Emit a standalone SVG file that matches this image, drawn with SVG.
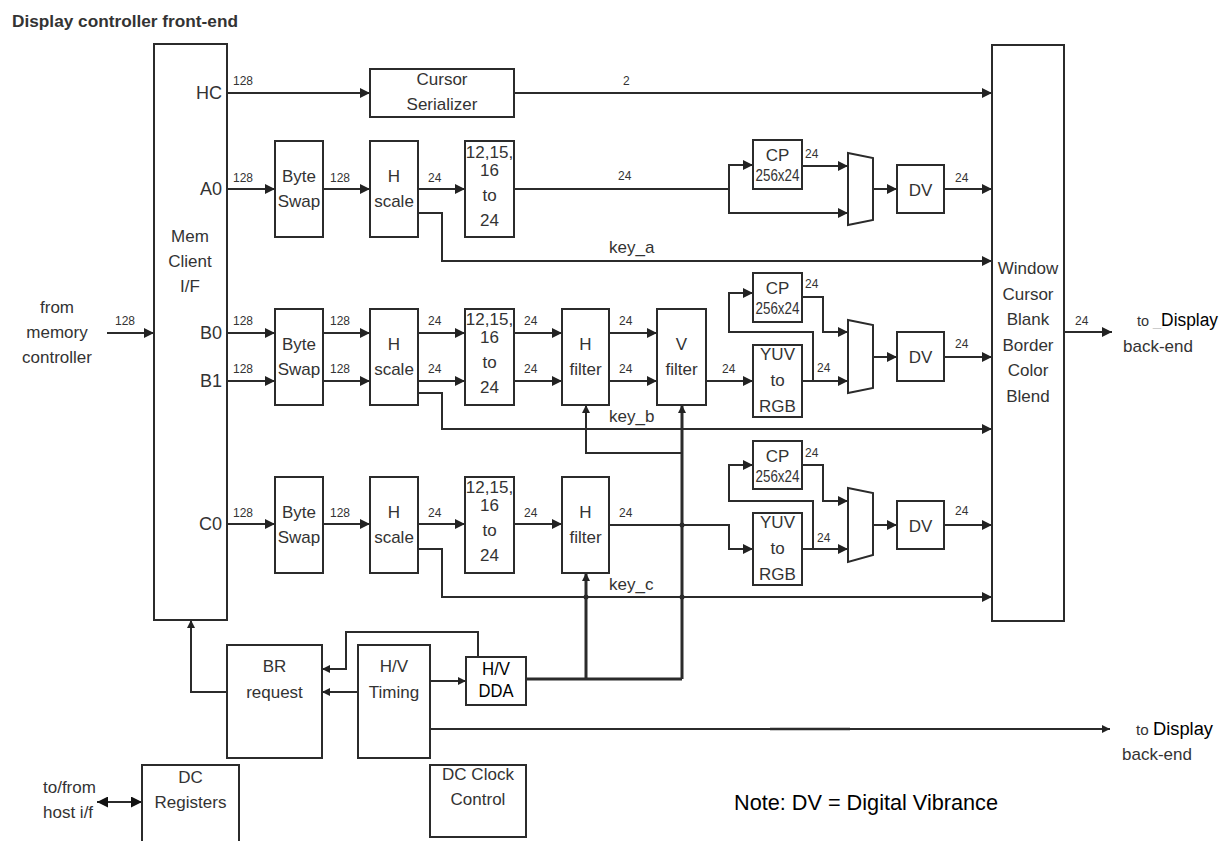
<svg xmlns="http://www.w3.org/2000/svg" width="1228" height="841" viewBox="0 0 1228 841">
<style>
.box{fill:#fff;stroke:#2b2b2b;stroke-width:2}
.ln{fill:none;stroke:#2b2b2b;stroke-width:2}
.th{fill:none;stroke:#2b2b2b;stroke-width:3}
.t{font-family:"Liberation Sans",Arial,sans-serif;font-size:17px;fill:#333;text-anchor:middle}
.p{font-family:"Liberation Sans",Arial,sans-serif;font-size:18px;fill:#333;text-anchor:end}
.s{font-family:"Liberation Sans",Arial,sans-serif;font-size:12px;fill:#333}
.k{font-family:"Liberation Sans",Arial,sans-serif;font-size:17px;fill:#333}
.n{font-family:"Liberation Sans Narrow","Liberation Sans",Arial,sans-serif;fill:#000}
.dot{fill:#2b2b2b}
</style>
<defs>
<marker id="a" viewBox="0 0 10 10" refX="10" refY="5" markerWidth="11" markerHeight="10" markerUnits="userSpaceOnUse" orient="auto"><path d="M0,0L10,5L0,10z" fill="#222"/></marker>
<marker id="as" viewBox="0 0 10 10" refX="10" refY="5" markerWidth="8" markerHeight="8" markerUnits="userSpaceOnUse" orient="auto"><path d="M0,0L10,5L0,10z" fill="#222"/></marker>
<marker id="ab" viewBox="0 0 10 10" refX="10" refY="5" markerWidth="12" markerHeight="11" markerUnits="userSpaceOnUse" orient="auto-start-reverse"><path d="M0,0L10,5L0,10z" fill="#111"/></marker>
</defs>
<rect width="1228" height="841" fill="#fff"/>
<text x="12" y="27" font-family="Liberation Sans,Arial,sans-serif" font-weight="bold" font-size="17" fill="#333" textLength="226" lengthAdjust="spacingAndGlyphs">Display controller front-end</text>

<g id="connectors">
<path class="ln" d="M107,333H154" marker-end="url(#a)"/>
<path class="ln" d="M227,93H370" marker-end="url(#a)"/>
<path class="ln" d="M514,93H992" marker-end="url(#a)"/>
<path class="ln" d="M227,189H275" marker-end="url(#a)"/>
<path class="ln" d="M323,189H370" marker-end="url(#a)"/>
<path class="ln" d="M418,189H465" marker-end="url(#a)"/>
<path class="ln" d="M514,189H729V165H753" marker-end="url(#a)"/>
<path class="ln" d="M729,189V213H848" marker-end="url(#a)"/>
<path class="ln" d="M802,166H848" marker-end="url(#a)"/>
<path class="ln" d="M873,189H897" marker-end="url(#a)"/>
<path class="ln" d="M944,189H992" marker-end="url(#a)"/>
<path class="ln" d="M418,213H442V261H992" marker-end="url(#a)"/>
<path class="ln" d="M227,333H275" marker-end="url(#a)"/>
<path class="ln" d="M227,381H275" marker-end="url(#a)"/>
<path class="ln" d="M323,333H370" marker-end="url(#a)"/>
<path class="ln" d="M323,381H370" marker-end="url(#a)"/>
<path class="ln" d="M418,333H465" marker-end="url(#a)"/>
<path class="ln" d="M418,381H465" marker-end="url(#a)"/>
<path class="ln" d="M514,333H562" marker-end="url(#a)"/>
<path class="ln" d="M514,381H562" marker-end="url(#a)"/>
<path class="ln" d="M609,333H657" marker-end="url(#a)"/>
<path class="ln" d="M609,381H657" marker-end="url(#a)"/>
<path class="ln" d="M706,381H753" marker-end="url(#a)"/>
<path class="ln" d="M802,381H848" marker-end="url(#a)"/>
<path class="ln" d="M813,381V332H729V293H753" marker-end="url(#a)"/>
<path class="ln" d="M802,297H823V332H848" marker-end="url(#a)"/>
<path class="ln" d="M873,357H897" marker-end="url(#a)"/>
<path class="ln" d="M944,357H992" marker-end="url(#a)"/>
<path class="ln" d="M418,393H442V429H992" marker-end="url(#a)"/>
<path class="ln" d="M682,453H586V405" marker-end="url(#as)"/>
<path class="th" d="M682,679V405" marker-end="url(#as)"/>
<path class="ln" d="M227,524H275" marker-end="url(#a)"/>
<path class="ln" d="M323,524H370" marker-end="url(#a)"/>
<path class="ln" d="M418,524H465" marker-end="url(#a)"/>
<path class="ln" d="M514,524H562" marker-end="url(#a)"/>
<path class="ln" d="M609,525H729V549H753" marker-end="url(#a)"/>
<path class="ln" d="M802,549H848" marker-end="url(#a)"/>
<path class="ln" d="M813,549V501H729V465H753" marker-end="url(#a)"/>
<path class="ln" d="M802,465H823V501H848" marker-end="url(#a)"/>
<path class="ln" d="M873,525H897" marker-end="url(#a)"/>
<path class="ln" d="M944,525H992" marker-end="url(#a)"/>
<path class="ln" d="M418,549H442V597H992" marker-end="url(#a)"/>
<path class="th" d="M586,679V573" marker-end="url(#as)"/>
<circle class="dot" cx="682" cy="525" r="2.5"/>
<circle class="dot" cx="682" cy="597" r="2.5"/>
<circle class="dot" cx="586" cy="597" r="2.5"/>
<path class="ln" d="M1064,332H1112" marker-end="url(#a)"/>
<path class="ln" d="M227,692H191V620" marker-end="url(#as)"/>
<path class="ln" d="M358,692H322" marker-end="url(#as)"/>
<path class="ln" d="M478,657V632H346V669H322" marker-end="url(#as)"/>
<path class="ln" d="M430,681H466" marker-end="url(#as)"/>
<path class="th" d="M526,679H682"/>
<path class="ln" d="M430,729H1110" marker-end="url(#as)"/>
<path fill="none" stroke="#2b2b2b" stroke-width="2.6" d="M770,729H850"/>
<path class="ln" d="M97,802H142" marker-start="url(#ab)" marker-end="url(#ab)"/>
</g>

<g id="mem">
<rect class="box" x="154" y="44" width="73" height="576"/>
<text class="t" x="190" y="242">Mem</text>
<text class="t" x="190" y="267">Client</text>
<text class="t" x="190" y="292">I/F</text>
<text class="p" x="222" y="99">HC</text>
<text class="p" x="222" y="195">A0</text>
<text class="p" x="222" y="339">B0</text>
<text class="p" x="222" y="387">B1</text>
<text class="p" x="222" y="530">C0</text>
</g>
<g id="cursor-serializer">
<rect class="box" x="370" y="69" width="144" height="48"/>
<text class="t" x="442" y="85">Cursor</text>
<text class="t" x="442" y="110">Serializer</text>
</g>
<g id="byteswap-a"><rect class="box" x="275" y="141" width="48" height="96"/><text class="t" x="299" y="182">Byte</text><text class="t" x="299" y="207">Swap</text></g>
<g id="byteswap-b"><rect class="box" x="275" y="309" width="48" height="96"/><text class="t" x="299" y="350">Byte</text><text class="t" x="299" y="375">Swap</text></g>
<g id="byteswap-c"><rect class="box" x="275" y="477" width="48" height="96"/><text class="t" x="299" y="518">Byte</text><text class="t" x="299" y="543">Swap</text></g>
<g id="hscale-a"><rect class="box" x="370" y="141" width="48" height="96"/><text class="t" x="394" y="182">H</text><text class="t" x="394" y="207">scale</text></g>
<g id="hscale-b"><rect class="box" x="370" y="309" width="48" height="96"/><text class="t" x="394" y="350">H</text><text class="t" x="394" y="375">scale</text></g>
<g id="hscale-c"><rect class="box" x="370" y="477" width="48" height="96"/><text class="t" x="394" y="518">H</text><text class="t" x="394" y="543">scale</text></g>
<g id="conv-a"><rect class="box" x="465" y="141" width="49" height="96"/><text class="t" x="489.5" y="158" font-size="12">12,15,</text><text class="t" x="489.5" y="176" font-size="12">16</text><text class="t" x="489.5" y="201">to</text><text class="t" x="489.5" y="226">24</text></g>
<g id="conv-b"><rect class="box" x="465" y="309" width="49" height="96"/><text class="t" x="489.5" y="325" font-size="12">12,15,</text><text class="t" x="489.5" y="343" font-size="12">16</text><text class="t" x="489.5" y="368">to</text><text class="t" x="489.5" y="393">24</text></g>
<g id="conv-c"><rect class="box" x="465" y="477" width="49" height="96"/><text class="t" x="489.5" y="493" font-size="12">12,15,</text><text class="t" x="489.5" y="511" font-size="12">16</text><text class="t" x="489.5" y="536">to</text><text class="t" x="489.5" y="561">24</text></g>
<g id="hfilter-b"><rect class="box" x="562" y="309" width="47" height="96"/><text class="t" x="585.5" y="350">H</text><text class="t" x="585.5" y="375">filter</text></g>
<g id="hfilter-c"><rect class="box" x="562" y="477" width="47" height="96"/><text class="t" x="585.5" y="518">H</text><text class="t" x="585.5" y="543">filter</text></g>
<g id="vfilter-b"><rect class="box" x="657" y="309" width="49" height="96"/><text class="t" x="681.5" y="350">V</text><text class="t" x="681.5" y="375">filter</text></g>
<g id="cp-a"><rect class="box" x="753" y="140" width="49" height="49"/><text class="t" x="777.5" y="161" font-size="18">CP</text><text class="t" x="777.5" y="181" font-size="12" textLength="44" lengthAdjust="spacingAndGlyphs">256x24</text></g>
<g id="cp-b"><rect class="box" x="753" y="273" width="49" height="49"/><text class="t" x="777.5" y="294" font-size="18">CP</text><text class="t" x="777.5" y="314" font-size="12" textLength="44" lengthAdjust="spacingAndGlyphs">256x24</text></g>
<g id="cp-c"><rect class="box" x="753" y="441" width="49" height="48"/><text class="t" x="777.5" y="462" font-size="18">CP</text><text class="t" x="777.5" y="482" font-size="12" textLength="44" lengthAdjust="spacingAndGlyphs">256x24</text></g>
<g id="yuv-b"><rect class="box" x="753" y="345" width="49" height="72"/><text class="t" x="777.5" y="360">YUV</text><text class="t" x="777.5" y="386">to</text><text class="t" x="777.5" y="412">RGB</text></g>
<g id="yuv-c"><rect class="box" x="753" y="513" width="49" height="72"/><text class="t" x="777.5" y="528">YUV</text><text class="t" x="777.5" y="554">to</text><text class="t" x="777.5" y="580">RGB</text></g>
<g id="mux-a"><polygon class="box" points="848,153 873,158 873,220 848,225"/></g>
<g id="mux-b"><polygon class="box" points="848,320 873,325 873,388 848,393"/></g>
<g id="mux-c"><polygon class="box" points="848,488 873,493 873,555 848,562"/></g>
<g id="dv-a"><rect class="box" x="897" y="165" width="47" height="48"/><text class="t" x="920.5" y="196" font-size="18">DV</text></g>
<g id="dv-b"><rect class="box" x="897" y="332" width="47" height="49"/><text class="t" x="920.5" y="363" font-size="18">DV</text></g>
<g id="dv-c"><rect class="box" x="897" y="501" width="47" height="48"/><text class="t" x="920.5" y="532" font-size="18">DV</text></g>
<g id="window">
<rect class="box" x="992" y="45" width="72" height="576"/>
<text class="t" x="1028" y="274">Window</text>
<text class="t" x="1028" y="300">Cursor</text>
<text class="t" x="1028" y="325">Blank</text>
<text class="t" x="1028" y="351">Border</text>
<text class="t" x="1028" y="376">Color</text>
<text class="t" x="1028" y="402">Blend</text>
</g>
<g id="br-request"><rect class="box" x="227" y="645" width="95" height="113"/><text class="t" x="274.5" y="672">BR</text><text class="t" x="274.5" y="698">request</text></g>
<g id="hv-timing"><rect class="box" x="358" y="645" width="72" height="113"/><text class="t" x="394" y="672">H/V</text><text class="t" x="394" y="698">Timing</text></g>
<g id="hv-dda"><rect class="box" x="466" y="657" width="60" height="48"/><text class="n" x="496" y="675" font-size="18" text-anchor="middle" textLength="28" lengthAdjust="spacingAndGlyphs">H/V</text><text class="n" x="496" y="697" font-size="18" text-anchor="middle" textLength="35" lengthAdjust="spacingAndGlyphs">DDA</text></g>
<g id="dc-registers"><rect class="box" x="142" y="765" width="97" height="90"/><text class="t" x="190.5" y="783">DC</text><text class="t" x="190.5" y="808">Registers</text></g>
<g id="dc-clock"><rect class="box" x="430" y="765" width="96" height="72"/><text class="t" x="478" y="780">DC Clock</text><text class="t" x="478" y="805">Control</text></g>

<g id="labels">
<text class="t" x="57" y="313">from</text>
<text class="t" x="57" y="338">memory</text>
<text class="t" x="57" y="363">controller</text>
<text class="k" x="43" y="793">to/from</text>
<text class="k" x="43" y="818">host i/f</text>
<text class="k" x="1137" y="326" textLength="81" lengthAdjust="spacingAndGlyphs"><tspan font-size="15">to </tspan><tspan fill="#ccc" font-size="15">_</tspan><tspan font-size="18" fill="#000">Display</tspan></text>
<text class="k" x="1123" y="352">back-end</text>
<text class="k" x="1136" y="735" textLength="77" lengthAdjust="spacingAndGlyphs"><tspan font-size="15">to </tspan><tspan font-size="18" fill="#000">Display</tspan></text>
<text class="k" x="1122" y="760">back-end</text>
<text class="n" x="734" y="810" font-size="22" textLength="264" lengthAdjust="spacingAndGlyphs">Note: DV = Digital Vibrance</text>
<text class="k" x="609" y="253">key_a</text>
<text class="k" x="609" y="422">key_b</text>
<text class="k" x="609" y="590">key_c</text>
<text class="s" x="233" y="85">128</text>
<text class="s" x="623" y="85">2</text>
<text class="s" x="233" y="182">128</text>
<text class="s" x="330" y="182">128</text>
<text class="s" x="428" y="182">24</text>
<text class="s" x="618" y="180">24</text>
<text class="s" x="805" y="158">24</text>
<text class="s" x="955" y="182">24</text>
<text class="s" x="115" y="325">128</text>
<text class="s" x="233" y="325">128</text>
<text class="s" x="233" y="373">128</text>
<text class="s" x="330" y="325">128</text>
<text class="s" x="330" y="373">128</text>
<text class="s" x="428" y="325">24</text>
<text class="s" x="428" y="373">24</text>
<text class="s" x="524" y="325">24</text>
<text class="s" x="524" y="373">24</text>
<text class="s" x="619" y="325">24</text>
<text class="s" x="619" y="373">24</text>
<text class="s" x="722" y="373">24</text>
<text class="s" x="805" y="288">24</text>
<text class="s" x="817" y="372">24</text>
<text class="s" x="955" y="348">24</text>
<text class="s" x="1075" y="325">24</text>
<text class="s" x="233" y="517">128</text>
<text class="s" x="330" y="517">128</text>
<text class="s" x="428" y="517">24</text>
<text class="s" x="524" y="517">24</text>
<text class="s" x="619" y="517">24</text>
<text class="s" x="805" y="457">24</text>
<text class="s" x="817" y="542">24</text>
<text class="s" x="955" y="515">24</text>
</g>
</svg>
